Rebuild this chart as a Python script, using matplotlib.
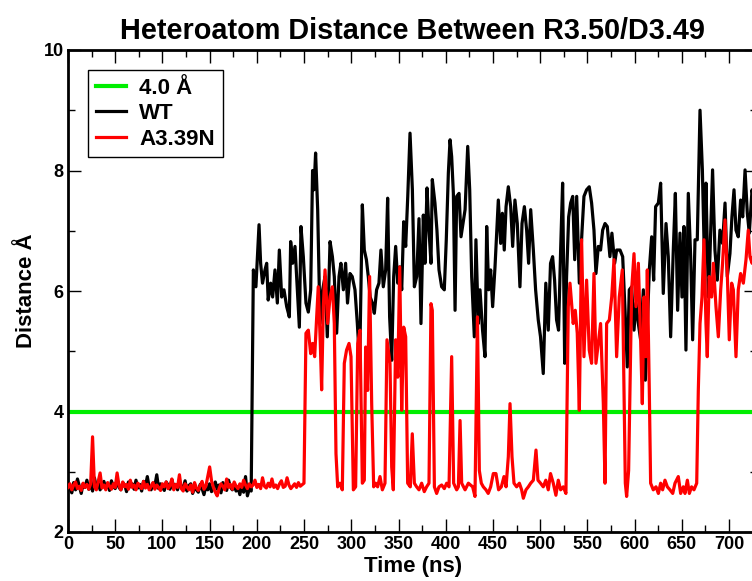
import matplotlib
matplotlib.use("Agg")
import matplotlib.pyplot as plt
from matplotlib.ticker import MultipleLocator

plt.rcParams['font.family'] = ['Liberation Sans', 'DejaVu Sans']
plt.rcParams['font.weight'] = 'bold'

# ---------------- data ----------------
title = "Heteroatom Distance Between R3.50/D3.49"
xlabel = "Time (ns)"
ylabel = "Distance Å"
threshold_label = "4.0 Å"
wt_label = "WT"
mut_label = "A3.39N"
threshold = 4.0

# WT: baseline part, one value every 2 ns from 0 to 194 ns
wt_base_t = list(range(0, 196, 2))
wt_base_v = [2.78, 2.72, 2.65, 2.82, 2.70, 2.88, 2.76, 2.64, 2.80, 2.74,
             2.86, 2.71, 2.79, 2.68, 2.90, 2.75, 2.81, 2.70, 2.77, 2.84,
             2.73, 2.80, 2.69, 2.85, 2.76, 2.72, 2.88, 2.74, 2.70, 2.82,
             2.78, 2.67, 2.83, 2.75, 2.80, 2.71, 2.86, 2.73, 2.79, 2.68,
             2.84, 2.76, 2.92, 2.74, 2.70, 2.81, 2.77, 2.95, 2.72, 2.80,
             2.74, 2.69, 2.83, 2.78, 2.71, 2.87, 2.75, 2.79, 2.70, 2.82,
             2.76, 2.73, 2.85, 2.68, 2.77, 2.80, 2.64, 2.74, 2.70, 2.66,
             2.79, 2.72, 2.62, 2.76, 2.70, 2.80, 2.67, 2.74, 2.83, 2.71,
             2.78, 2.65, 2.82, 2.73, 2.69, 2.86, 2.75, 2.70, 2.80, 2.68,
             2.74, 2.62, 2.78, 2.66, 2.92, 2.60, 2.72, 2.68]

# WT: open part (time ns, distance)
wt_open_t = [196.3, 199.0, 202.3, 204.0, 206.0, 208.6, 210.4, 212.0, 214.6, 216.7,
             219.2, 221.7, 223.8, 226.3, 228.7, 231.6, 234.4, 235.8, 237.9, 240.4,
             242.9, 245.0, 246.7, 249.2, 252.0, 254.5, 257.0, 259.0, 260.5, 262.2,
             264.4, 266.9, 269.7, 272.2, 274.6, 277.5, 280.0, 282.0, 284.5, 287.0,
             289.0, 291.6, 294.0, 296.0, 298.6, 301.0, 303.9, 306.4, 308.9, 311.7,
             313.8, 316.0, 318.0, 320.0, 322.3, 324.4, 326.8, 329.3, 331.4, 333.9,
             336.4, 338.5, 340.6, 342.8, 344.9, 347.0, 349.2, 351.3, 353.4, 355.5,
             357.6, 359.8, 362.2, 364.7, 366.8, 369.3, 371.7, 373.8, 376.3, 378.0,
             380.2, 382.3, 384.4, 385.8, 388.6, 390.7, 392.9, 395.7, 398.5, 400.6,
             402.8, 404.6, 406.3, 408.1, 409.9, 411.6, 414.1, 416.2, 418.3, 420.5,
             423.3, 425.4, 427.5, 430.3, 432.0, 434.5, 436.3, 439.0, 441.6, 443.4,
             445.5, 447.6, 449.7, 452.2, 455.7, 458.2, 460.0, 462.0, 463.9, 466.3,
             468.8, 470.9, 473.3, 475.8, 478.6, 480.8, 483.3, 485.7, 487.8, 490.0,
             492.8, 495.2, 498.0, 500.4, 503.3, 506.0, 508.6, 511.0, 513.2, 515.3,
             517.4, 519.5, 521.7, 523.8, 526.0, 528.0, 530.2, 532.3, 534.5, 536.6,
             538.7, 541.5, 544.4, 546.4, 549.2, 552.0, 554.5, 557.0, 559.1, 561.6,
             564.0, 566.2, 568.7, 571.1, 573.9, 576.0, 578.9, 581.0, 584.6, 587.4,
             589.9, 592.3, 594.4, 596.9, 599.4, 601.5, 604.0, 606.4, 609.3, 611.4,
             613.5, 615.6, 618.1, 620.2, 622.3, 625.2, 627.6, 630.4, 633.3, 635.7,
             638.2, 641.0, 643.2, 645.6, 648.1, 650.2, 652.3, 654.4, 656.9, 659.4,
             661.5, 664.0, 666.4, 669.3, 671.8, 673.9, 675.6, 678.1, 679.8, 682.6,
             685.1, 687.6, 690.4, 693.2, 695.8, 698.2, 701.0, 703.1, 705.3, 707.4,
             709.8, 712.3, 714.5, 717.0, 719.4, 721.5, 724.4, 727.0, 730.0]
wt_open_v = [6.35, 6.07, 7.10, 6.46, 6.13, 6.35, 6.46, 5.85, 6.13, 5.90,
             6.35, 5.80, 6.68, 5.90, 6.02, 5.74, 5.57, 6.82, 6.46, 6.74,
             6.02, 5.40, 7.07, 6.57, 5.80, 5.65, 6.02, 8.00, 7.68, 8.29,
             7.35, 5.46, 6.02, 6.24, 5.24, 6.82, 6.57, 6.24, 5.30, 6.24,
             6.46, 6.02, 6.46, 5.80, 6.29, 6.24, 6.02, 5.46, 4.80, 7.43,
             6.68, 6.52, 6.24, 5.90, 5.80, 5.63, 6.02, 6.13, 6.68, 6.07,
             6.35, 7.54, 5.57, 4.85, 6.24, 6.74, 6.13, 6.40, 6.02, 7.15,
             6.74, 7.57, 8.62, 7.68, 6.07, 6.24, 7.20, 5.46, 7.26, 6.46,
             7.71, 7.01, 6.46, 7.85, 7.46, 7.01, 6.35, 6.07, 6.02, 6.85,
             7.96, 8.51, 8.23, 7.62, 5.68, 7.57, 7.62, 6.90, 7.12, 7.35,
             8.40, 7.68, 6.24, 5.24, 6.85, 5.46, 6.02, 5.35, 4.91, 7.07,
             6.02, 6.35, 5.74, 6.40, 7.51, 6.79, 7.29, 6.68, 7.40, 7.73,
             7.40, 6.74, 7.51, 7.12, 6.07, 7.12, 7.40, 7.01, 6.46, 7.35,
             6.68, 6.02, 5.52, 5.24, 4.63, 6.13, 5.35, 6.46, 6.57, 6.18,
             5.52, 5.35, 6.68, 7.79, 4.80, 6.24, 7.23, 7.46, 7.57, 6.52,
             7.57, 6.13, 7.01, 7.57, 7.68, 7.73, 7.46, 7.01, 6.29, 6.74,
             6.68, 7.01, 7.12, 7.07, 6.57, 6.96, 6.46, 6.68, 6.68, 6.57,
             5.68, 4.74, 6.02, 6.07, 5.35, 5.80, 5.46, 5.19, 6.02, 4.52,
             5.46, 6.35, 6.90, 6.18, 7.40, 7.46, 7.79, 5.96, 7.12, 6.57,
             5.24, 6.68, 7.62, 5.68, 6.96, 5.90, 7.07, 5.02, 7.62, 6.57,
             5.19, 6.85, 6.85, 9.00, 8.01, 6.57, 7.79, 5.90, 6.57, 8.01,
             6.68, 6.18, 7.01, 6.79, 7.46, 6.24, 6.62, 7.23, 7.68, 7.01,
             6.90, 7.51, 7.23, 8.01, 7.29, 6.96, 7.68, 7.40, 7.10]

# A3.39N: baseline part, one value every 2 ns from 0 to 246 ns
mut_base_t = list(range(0, 248, 2))
mut_base_v = [2.74, 2.80, 2.70, 2.78, 2.83, 2.72, 2.76, 2.69, 2.81, 2.74,
              2.79, 2.71, 2.80, 3.58, 2.75, 2.70, 2.84, 2.98, 2.73, 2.78,
              2.70, 2.82, 2.76, 2.71, 2.80, 2.74, 2.98, 2.77, 2.70, 2.83,
              2.75, 2.79, 2.71, 2.86, 2.74, 2.78, 2.70, 2.81, 2.76, 2.72,
              2.84, 2.73, 2.79, 2.70, 2.76, 2.82, 2.71, 2.78, 2.74, 2.69,
              2.80, 2.75, 2.83, 2.72, 2.77, 2.88, 2.70, 2.79, 2.74, 2.95,
              2.72, 2.68, 2.80, 2.75, 2.70, 2.78, 2.66, 2.82, 2.73, 2.69,
              2.77, 2.84, 2.71, 2.76, 2.92, 3.08, 2.85, 2.74, 2.66, 2.60,
              2.72, 2.80, 2.76, 2.70, 2.88, 2.74, 2.79, 2.71, 2.83, 2.76,
              2.72, 2.80, 2.74, 2.86, 2.78, 2.72, 2.80, 2.75, 2.78, 2.86,
              2.74, 2.79, 2.72, 2.90, 2.76, 2.73, 2.81, 2.75, 2.88, 2.74,
              2.78, 2.72, 2.80, 2.85, 2.74, 2.76, 2.90, 2.78, 2.72, 2.76,
              2.80, 2.74, 2.82, 2.76]

# A3.39N: later part (time ns, distance)
mut_late_t = [249.9, 252.0, 254.5, 257.0, 259.0, 261.2, 263.3, 265.0, 267.2, 268.6,
              270.4, 272.2, 275.0, 277.5, 280.0, 282.0, 283.8, 285.6, 288.0, 290.5,
              292.6, 295.0, 297.6, 299.7, 302.2, 304.6, 306.8, 309.2, 311.7, 313.8,
              315.2, 317.3, 319.4, 321.6, 323.7, 325.8, 327.9, 330.4, 332.9, 335.7,
              337.8, 341.0, 342.8, 344.5, 347.0, 349.2, 351.3, 353.4, 355.5, 357.6,
              359.7, 362.5, 364.6, 366.8, 369.2, 371.7, 374.5, 377.3, 379.8, 382.3,
              384.4, 385.8, 388.0, 390.4, 392.9, 395.7, 398.5, 401.0, 403.5, 406.3,
              408.4, 411.6, 413.4, 415.2, 416.9, 420.5, 424.0, 428.5, 431.0, 433.6,
              435.6, 437.7, 439.8, 442.6, 445.0, 447.6, 450.4, 453.2, 456.0, 458.9,
              461.7, 463.9, 466.3, 468.1, 470.2, 472.3, 475.1, 478.0, 480.4, 482.2,
              485.0, 487.5, 490.0, 492.8, 495.6, 497.7, 500.4, 503.3, 506.0, 508.6,
              511.0, 513.9, 516.7, 519.2, 521.7, 524.5, 527.3, 529.8, 531.6, 533.3,
              535.0, 537.2, 539.3, 541.5, 543.9, 546.4, 549.2, 552.0, 554.5, 557.0,
              559.1, 561.6, 564.0, 566.9, 568.7, 570.4, 573.3, 575.8, 578.2, 581.0,
              583.8, 587.0, 588.8, 590.2, 591.6, 593.7, 595.1, 596.9, 599.4, 601.5,
              604.0, 606.4, 608.2, 610.0, 612.0, 613.5, 615.6, 617.0, 619.8, 622.7,
              625.2, 627.6, 629.7, 632.2, 634.7, 637.5, 640.4, 642.8, 646.3, 648.8,
              651.6, 653.4, 655.9, 658.0, 660.4, 662.9, 665.8, 667.5, 669.3, 671.4,
              673.5, 675.6, 677.0, 679.1, 681.6, 683.4, 686.2, 688.7, 691.2, 693.2,
              695.8, 698.2, 700.3, 702.8, 704.6, 707.4, 709.8, 712.3, 715.2, 718.0,
              720.4, 722.2, 724.4, 727.0, 730.0]
mut_late_v = [2.81, 5.30, 5.35, 4.96, 5.13, 4.91, 5.57, 6.07, 5.13, 4.36,
              5.74, 6.35, 5.46, 5.90, 6.07, 5.46, 3.30, 2.75, 2.81, 2.70,
              4.80, 5.02, 5.13, 4.91, 2.70, 2.75, 5.13, 5.35, 2.81, 2.86,
              5.07, 4.35, 6.24, 4.13, 2.75, 2.81, 2.75, 2.92, 2.70, 2.81,
              5.19, 4.80, 3.08, 2.70, 5.19, 4.57, 6.40, 4.02, 5.40, 5.24,
              2.81, 2.75, 3.63, 2.81, 2.75, 2.70, 2.81, 2.67, 2.75, 2.81,
              5.79, 5.68, 2.75, 2.64, 2.75, 2.78, 2.72, 2.81, 2.75, 4.91,
              2.81, 2.70, 2.75, 3.85, 2.81, 2.70, 2.81, 2.75, 2.59, 5.57,
              3.02, 2.81, 2.75, 2.70, 2.64, 2.75, 2.97, 2.97, 2.70, 2.75,
              2.92, 2.75, 3.25, 4.13, 3.25, 2.81, 2.75, 2.81, 2.70, 2.56,
              2.70, 2.75, 2.81, 2.86, 3.36, 2.86, 2.81, 2.75, 2.86, 2.70,
              2.97, 2.81, 2.61, 2.86, 2.70, 2.75, 2.64, 5.74, 6.13, 5.79,
              5.46, 5.68, 5.30, 4.02, 6.85, 4.91, 6.18, 5.02, 4.80, 6.29,
              4.80, 5.13, 5.46, 4.13, 2.81, 5.46, 5.52, 5.90, 6.52, 4.91,
              5.90, 6.35, 4.35, 2.81, 2.59, 3.02, 4.35, 6.02, 6.62, 5.74,
              6.46, 5.19, 4.13, 5.90, 4.91, 6.35, 4.35, 2.81, 2.70, 2.75,
              2.64, 2.81, 2.70, 2.86, 2.75, 2.70, 2.64, 2.81, 2.92, 2.64,
              2.75, 2.64, 2.86, 2.64, 2.75, 2.70, 2.81, 4.35, 5.46, 5.90,
              6.85, 5.46, 4.91, 6.24, 5.90, 6.46, 5.74, 5.24, 6.02, 6.46,
              7.18, 6.29, 5.19, 6.13, 6.02, 4.91, 6.02, 6.29, 6.13, 6.52,
              7.01, 6.57, 6.46, 6.70, 6.90]

xlim = (0, 730)
ylim = (2, 10)
xticks = list(range(0, 701, 50))
yticks = [2, 4, 6, 8, 10]

# ---------------- figure ----------------
W, H = 752, 581
fig = plt.figure(figsize=(W / 100, H / 100), dpi=100)
ax_left, ax_bottom, ax_top = 68, 532, 50
ax_w_px = (xlim[1] - xlim[0]) * 661 / 700
ax = fig.add_axes([ax_left / W, 1 - ax_bottom / H, ax_w_px / W, (ax_bottom - ax_top) / H])

ax.axhline(threshold, color='#00ee00', lw=3.0, label=threshold_label, zorder=2)
ax.plot(wt_base_t + wt_open_t, wt_base_v + wt_open_v, color='black', lw=2.3,
        label=wt_label, zorder=3)
ax.plot(mut_base_t + mut_late_t, mut_base_v + mut_late_v, color='#ff0000', lw=2.3,
        label=mut_label, zorder=4)

ax.set_xticks(xticks)
ax.set_yticks(yticks)
ax.set_xlim(*xlim)
ax.set_ylim(*ylim)
ax.xaxis.set_minor_locator(MultipleLocator(25))
ax.yaxis.set_minor_locator(MultipleLocator(1))
ax.tick_params(which='both', direction='in', top=True, right=True, width=1.0,
               labelsize=13, pad=3)
ax.tick_params(which='major', length=9.5)
ax.tick_params(which='minor', length=5)
for lab in ax.get_xticklabels() + ax.get_yticklabels():
    lab.set_fontweight('bold')
for s in ax.spines.values():
    s.set_linewidth(2.0)

ax.set_xlabel(xlabel, fontsize=16, fontweight='bold', labelpad=2)
ax.set_ylabel(ylabel, fontsize=16, fontweight='bold', labelpad=5)
ax.set_title(title, fontsize=20.8, fontweight='bold', pad=8)

leg = ax.legend(loc='upper left', bbox_to_anchor=(88 / W, 1 - 70 / H),
                bbox_transform=fig.transFigure, borderaxespad=0, fancybox=False,
                frameon=True, edgecolor='black', framealpha=1,
                prop={'size': 16, 'weight': 'bold'}, handlelength=1.35,
                handletextpad=0.6, labelspacing=0.2, borderpad=0.35)
leg.get_frame().set_linewidth(1.0)

fig.savefig('out.png', dpi=100)
